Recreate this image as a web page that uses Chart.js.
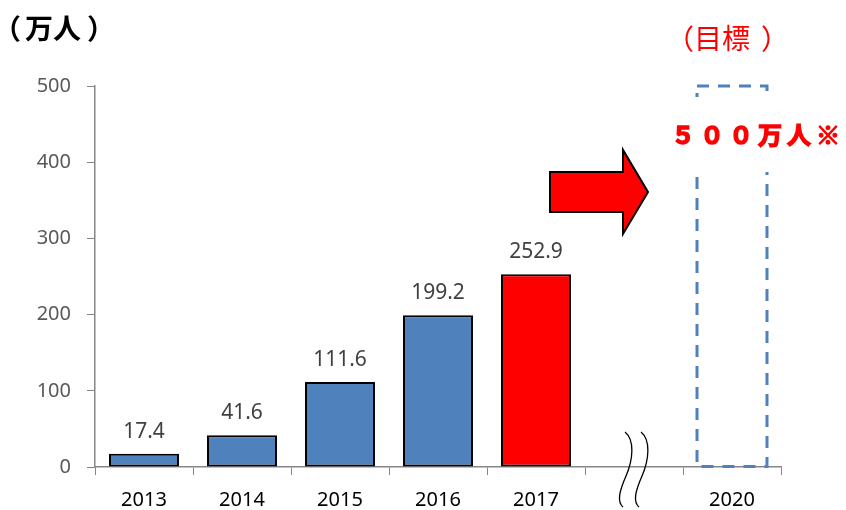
<!DOCTYPE html>
<html>
<head>
<meta charset="utf-8">
<script src="https://cdn.jsdelivr.net/npm/chart.js@4/dist/chart.umd.min.js"></script>
<style>
  html, body { margin: 0; padding: 0; background: #fff; }
  #wrap { width: 846px; height: 510px; }
</style>
</head>
<body>
<div id="wrap"><canvas id="visitorChart" width="846" height="510"></canvas></div>
<script>
// データ
const years = ['2013', '2014', '2015', '2016', '2017', '', '2020'];
const visitors = [17.4, 41.6, 111.6, 199.2, 252.9, null, 500];
const yTicks = [0, 100, 200, 300, 400, 500];
const targetIndex = 6;
const highlightIndex = 4;

const BLUE = '#4F81BD';
const RED = '#FF0000';
const JP = '"Noto Sans CJK JP", "Noto Sans", sans-serif';
const NUM = '"Noto Sans", "DejaVu Sans", sans-serif';

// インクの左端（または右端）を指定して文字を描く
function drawInk(ctx, text, x, y, alignRight) {
    ctx.textAlign = 'left';
    const m = ctx.measureText(text);
    const px = alignRight ? x - m.actualBoundingBoxRight : x + m.actualBoundingBoxLeft;
    ctx.fillText(text, px, y);
    return px;
}

// 追加の描画（ラベル・目標枠・矢印・省略線）
const decorations = {
    id: 'decorations',
    afterDatasetsDraw(chart) {
        const ctx = chart.ctx;
        const meta = chart.getDatasetMeta(0);
        const xs = chart.scales.x;
        const ys = chart.scales.y;

        // データラベル
        ctx.save();
        ctx.fillStyle = '#404040';
        ctx.font = '21px ' + NUM;
        ctx.textAlign = 'center';
        ctx.textBaseline = 'alphabetic';
        meta.data.forEach((bar, i) => {
            if (i === targetIndex || visitors[i] == null) return;
            ctx.fillText(visitors[i].toFixed(1), bar.x, bar.y - 16);
        });
        ctx.restore();

        // 目標（点線の枠）
        const t = meta.data[targetIndex];
        const left = t.x - t.width / 2;
        const right = t.x + t.width / 2;
        ctx.save();
        ctx.strokeStyle = BLUE;
        ctx.lineWidth = 3;
        ctx.setLineDash([12, 9]);
        ctx.strokeRect(left, t.y, right - left, t.base - t.y);
        ctx.restore();

        // ５００万人※
        ctx.save();
        ctx.fillStyle = '#fff';
        ctx.fillRect(left - 20, t.y + 11, 846 - left + 20, 75);
        ctx.fillStyle = RED;
        ctx.strokeStyle = RED;
        ctx.lineWidth = 1.4;
        ctx.font = 'bold 24px ' + JP;
        ctx.letterSpacing = '5px';
        ctx.textBaseline = 'middle';
        const px = drawInk(ctx, '５００万人※', left - 21, t.y + 49, false);
        ctx.strokeText('５００万人※', px, t.y + 49);
        ctx.restore();

        // 矢印
        const ax0 = xs.getPixelForValue(highlightIndex) + 14;
        const tip = xs.getPixelForValue(targetIndex) - 84;
        const head = tip - 25;
        const ay = ys.getPixelForValue(361);
        ctx.save();
        ctx.beginPath();
        ctx.moveTo(ax0, ay - 20);
        ctx.lineTo(head, ay - 20);
        ctx.lineTo(head, ay - 42);
        ctx.lineTo(tip, ay);
        ctx.lineTo(head, ay + 42);
        ctx.lineTo(head, ay + 20);
        ctx.lineTo(ax0, ay + 20);
        ctx.closePath();
        ctx.fillStyle = RED;
        ctx.fill();
        ctx.lineWidth = 2;
        ctx.strokeStyle = '#000';
        ctx.stroke();
        ctx.restore();

        // 省略線
        const bx = xs.getPixelForValue(5);
        ctx.save();
        ctx.strokeStyle = '#000';
        ctx.lineWidth = 1.3;
        [-7, 9].forEach(dx => {
            const cx = bx + dx;
            ctx.beginPath();
            ctx.moveTo(cx - 2, 432);
            ctx.bezierCurveTo(cx + 8, 440, cx + 6, 460, cx - 1, 476);
            ctx.bezierCurveTo(cx - 8, 492, cx - 10, 502, cx - 4, 507);
            ctx.stroke();
        });
        ctx.restore();

        // 見出し
        ctx.save();
        ctx.textBaseline = 'middle';
        ctx.fillStyle = '#000';
        ctx.font = 'bold 28px ' + JP;
        drawInk(ctx, '（', 11, 29, false);
        drawInk(ctx, '万人', 25, 28, false);
        drawInk(ctx, '）', 97, 29, true);
        ctx.fillStyle = RED;
        ctx.font = '28px ' + JP;
        drawInk(ctx, '（', 685, 39, false);
        drawInk(ctx, '目標', 698, 38, false);
        drawInk(ctx, '）', 770, 39, true);
        ctx.restore();
    }
};

new Chart(document.getElementById('visitorChart'), {
    type: 'bar',
    data: {
        labels: years,
        datasets: [{
            data: visitors,
            backgroundColor: years.map((y, i) => i === targetIndex ? 'rgba(0,0,0,0)' : (i === highlightIndex ? RED : BLUE)),
            borderColor: years.map((y, i) => i === targetIndex ? 'rgba(0,0,0,0)' : '#000'),
            borderWidth: 2,
            borderSkipped: false,
            barPercentage: 0.714,
            categoryPercentage: 1
        }]
    },
    options: {
        responsive: false,
        animation: false,
        layout: {
            padding: { left: 0, right: 65, top: 86, bottom: 0 }
        },
        plugins: {
            legend: { display: false },
            tooltip: { enabled: false }
        },
        scales: {
            x: {
                grid: {
                    offset: true,
                    drawOnChartArea: false,
                    drawTicks: true,
                    tickLength: 8,
                    color: '#868686'
                },
                border: { color: '#868686', width: 1.5 },
                ticks: {
                    color: '#000',
                    font: { family: NUM, size: 20 },
                    padding: 13,
                    maxRotation: 0
                },
                afterFit(scale) { scale.height = 43; }
            },
            y: {
                min: 0,
                max: 500,
                afterBuildTicks(scale) { scale.ticks = yTicks.map(v => ({ value: v })); },
                grid: {
                    drawOnChartArea: false,
                    drawTicks: true,
                    tickLength: 8,
                    color: '#868686'
                },
                border: { color: '#868686', width: 1.5 },
                ticks: {
                    color: '#595959',
                    font: { family: NUM, size: 20 },
                    padding: 16
                },
                afterFit(scale) { scale.width = 95; }
            }
        }
    },
    plugins: [decorations]
});
</script>
</body>
</html>
